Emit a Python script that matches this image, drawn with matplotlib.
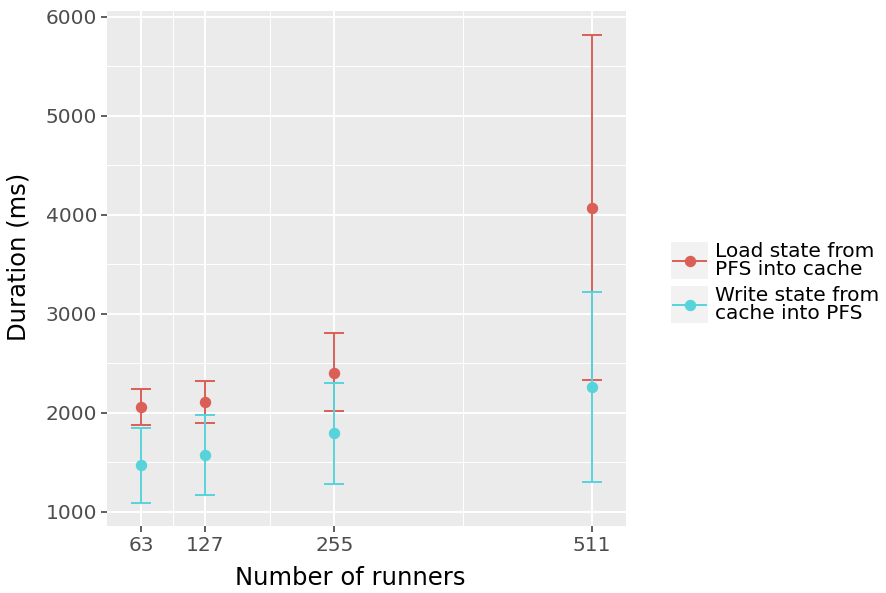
"""Load/write state durations vs number of runners."""
import matplotlib.pyplot as plt
from matplotlib.lines import Line2D
from matplotlib.patches import Rectangle

RED = '#db5f57'
CYAN = '#57d3db'

runners = [63, 127, 255, 511]

load_mean = [2060, 2111, 2407, 4069]
load_low = [1877, 1900, 2015, 2332]
load_high = [2240, 2322, 2808, 5817]

write_mean = [1470, 1571, 1793, 2262]
write_low = [1094, 1168, 1279, 1305]
write_high = [1852, 1980, 2302, 3218]

series_labels = ['Load state from\nPFS into cache', 'Write state from\ncache into PFS']

fig = plt.figure(figsize=(8.86, 5.93), dpi=100)
W, H = 886, 593
ax = fig.add_axes([107 / W, 1 - 526 / H, (626 - 107) / W, (526 - 11) / H])
ax.set_facecolor('#EBEBEB')
for s in ax.spines.values():
    s.set_visible(False)

# minor / major grid
ax.set_xticks(runners)
ax.set_xticks([95, 191, 383], minor=True)
ax.set_yticks([1000, 2000, 3000, 4000, 5000, 6000])
ax.set_yticks([1500, 2500, 3500, 4500, 5500], minor=True)
ax.grid(which='major', color='white', lw=1.4)
ax.grid(which='minor', color='white', lw=0.7)
ax.set_axisbelow(True)
ax.tick_params(which='major', length=4, width=1.1, color='#333333',
               labelcolor='#4d4d4d', labelsize=14.5, pad=3)
ax.tick_params(which='minor', length=0)

for mean, low, high, col in [(load_mean, load_low, load_high, RED),
                             (write_mean, write_low, write_high, CYAN)]:
    err = [[m - lo for m, lo in zip(mean, low)], [hi - m for m, hi in zip(mean, high)]]
    ax.errorbar(runners, mean, yerr=err, fmt='none', ecolor=col, elinewidth=1.4,
                capsize=7.2, capthick=1.4, zorder=3)
    ax.plot(runners, mean, 'o', color=col, ms=7.2, zorder=4)

ax.set_xlim(29.2, 544.8)
ax.set_ylim(858, 6060)
ax.set_xlabel('Number of runners', fontsize=17.5)
ax.set_ylabel('Duration (ms)', fontsize=17.5)
ax.xaxis.set_label_coords((350 - 107) / 519, -0.078)
ax.yaxis.set_label_coords(-0.147, (526 - 257) / 515)

# legend drawn by hand (ggplot style keys)
tr = fig.transFigure
for i, (lab, col) in enumerate(zip(series_labels, [RED, CYAN])):
    top = 242 + i * 44
    fig.add_artist(Rectangle((671 / W, 1 - (top + 37) / H), 37 / W, 37 / H,
                             transform=tr, facecolor='#F2F2F2', edgecolor='none'))
    yc = 1 - (top + 18.5) / H
    fig.add_artist(Line2D([673 / W, 706 / W], [yc, yc], transform=tr, color=col, lw=1.4))
    fig.add_artist(Line2D([689.5 / W], [yc], transform=tr, color=col, marker='o', ms=7.2))
    fig.text(715 / W, yc, lab, fontsize=14.5, va='center', ha='left',
             linespacing=0.9, color='black')

fig.savefig('out.png', dpi=100)
